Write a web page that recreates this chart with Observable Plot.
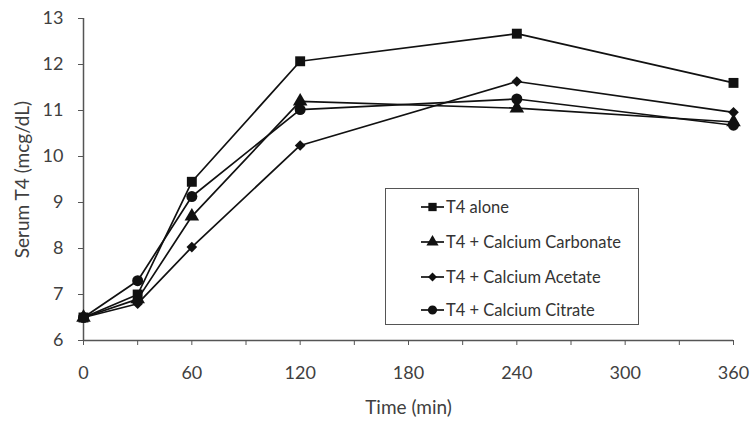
<!DOCTYPE html>
<html>
<head>
<meta charset="utf-8">
<script src="https://cdn.jsdelivr.net/npm/d3@7"></script>
<script src="https://cdn.jsdelivr.net/npm/@observablehq/plot@0.6"></script>
<style>
  body { margin: 0; background: #fff; }
  #wrap { position: relative; width: 753px; height: 423px; font-family: Lato, "Open Sans", sans-serif; }
  #legend { position: absolute; left: 385px; top: 188px; width: 254px; height: 137px; border: 1.5px solid #555; box-sizing: border-box; background: #fff; }
  .row { position: absolute; left: 34px; height: 20px; display: flex; align-items: center; font-size: 16.5px; color: #333; }
  .row svg { margin-right: 1px; }
</style>
</head>
<body>
<div id="wrap"></div>
<script>
const time = [0, 30, 60, 120, 240, 360];
const seriesNames = ["T4 alone", "T4 + Calcium Carbonate", "T4 + Calcium Acetate", "T4 + Calcium Citrate"];
const t4Alone = [6.5, 7.0, 9.45, 12.07, 12.67, 11.6];
const t4Carbonate = [6.5, 6.9, 8.7, 11.2, 11.05, 10.75];
const t4Acetate = [6.5, 6.8, 8.03, 10.24, 11.63, 10.96];
const t4Citrate = [6.5, 7.3, 9.13, 11.02, 11.25, 10.68];
const xTicks = [0, 30, 60, 90, 120, 150, 180, 210, 240, 270, 300, 330, 360];
const yTicks = [6, 7, 8, 9, 10, 11, 12, 13];
const xLabel = "Time (min)";
const yLabel = "Serum T4 (mcg/dL)";

const symbols = ["square", "triangle", "diamond2", "circle"];
const radii = [5.6, 5.4, 4.8, 5.5];
const seriesValues = [t4Alone, t4Carbonate, t4Acetate, t4Citrate];

const data = [];
seriesNames.forEach((name, i) => {
  time.forEach((t, j) => data.push({series: name, idx: i, time: t, value: seriesValues[i][j]}));
});

const axisColor = "#555";
const textColor = "#404040";

const plot = Plot.plot({
  width: 753,
  height: 423,
  marginLeft: 83,
  marginRight: 20,
  marginTop: 18,
  marginBottom: 83,
  style: {fontFamily: "Lato, 'Open Sans', sans-serif", fontSize: "15px", color: textColor, background: "transparent"},
  x: {domain: [0, 360]},
  y: {domain: [6, 13]},
  marks: [
    Plot.ruleY([6], {stroke: axisColor, strokeWidth: 1.5}),
    Plot.ruleX([0], {stroke: axisColor, strokeWidth: 1.5}),
    Plot.axisX({ticks: xTicks, tickFormat: d => d % 60 === 0 ? String(d) : "", tickSize: 5, tickPadding: 21, stroke: axisColor, fill: textColor, fontSize: 18, label: null}),
    Plot.axisY({ticks: yTicks, tickFormat: d => String(d), tickSize: 5, tickPadding: 15, stroke: axisColor, fill: textColor, fontSize: 18, label: null}),
    Plot.text([xLabel], {text: d => d, frameAnchor: "bottom", dy: 67, textAnchor: "middle", lineAnchor: "middle", fontSize: 19, fill: textColor}),
    Plot.text([yLabel], {text: d => d, frameAnchor: "left", dx: -61, rotate: -90, textAnchor: "middle", lineAnchor: "middle", fontSize: 19, fill: textColor}),
    Plot.line(data, {x: "time", y: "value", z: "series", stroke: "#111", strokeWidth: 1.7}),
    ...seriesNames.map((name, i) => Plot.dot(data.filter(d => d.idx === i), {
      x: "time", y: "value", symbol: () => symbols[i], r: radii[i], fill: "#111", stroke: "none"
    }))
  ]
});

const wrap = document.getElementById("wrap");
wrap.appendChild(plot);

// Legend (HTML overlay)
const legend = document.createElement("div");
legend.id = "legend";
const rowTops = [8, 43, 78, 111];
const symMap = {square: d3.symbolSquare, triangle: d3.symbolTriangle, diamond2: d3.symbolDiamond2, circle: d3.symbolCircle};
seriesNames.forEach((name, i) => {
  const row = document.createElement("div");
  row.className = "row";
  row.style.top = rowTops[i] + "px";
  const s = d3.create("svg").attr("width", 25).attr("height", 20);
  s.append("line").attr("x1", 1).attr("x2", 24).attr("y1", 10).attr("y2", 10).attr("stroke", "#111").attr("stroke-width", 1.7);
  const sz = Math.PI * radii[i] * radii[i] * 0.7;
  s.append("path").attr("d", d3.symbol(symMap[symbols[i]], sz)()).attr("transform", "translate(12.5,10)").attr("fill", "#111");
  row.appendChild(s.node());
  const span = document.createElement("span");
  span.textContent = name;
  row.appendChild(span);
  legend.appendChild(row);
});
wrap.appendChild(legend);
</script>
</body>
</html>
